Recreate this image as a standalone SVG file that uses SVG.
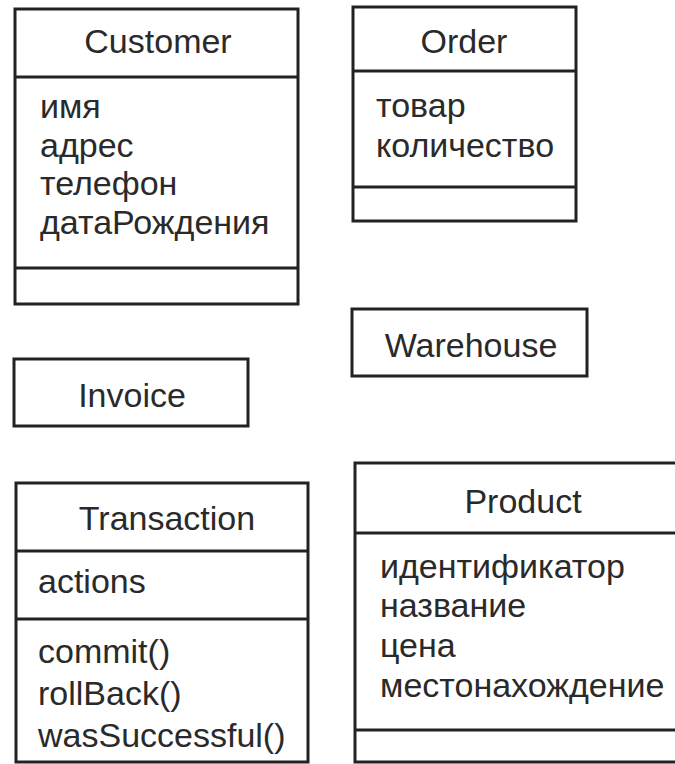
<svg xmlns="http://www.w3.org/2000/svg" width="675" height="764" viewBox="0 0 675 764">
  <style>
    .box { fill: #ffffff; stroke: #222222; stroke-width: 3; }
    .sep { stroke: #222222; stroke-width: 3; }
    text { font-family: "Liberation Sans", Arial, sans-serif; font-size: 34px; fill: #2a2a2a; }
    .name { text-anchor: middle; }
  </style>
  <rect width="675" height="764" fill="#ffffff"/>

  <g id="customer">
    <rect class="box" x="15" y="9" width="283" height="295"/>
    <line class="sep" x1="15" y1="77" x2="298" y2="77"/>
    <line class="sep" x1="15" y1="268" x2="298" y2="268"/>
    <text class="name" x="158" y="53">Customer</text>
    <text x="40" y="118">имя</text>
    <text x="40" y="157">адрес</text>
    <text x="40" y="195">телефон</text>
    <text x="40" y="234">датаРождения</text>
  </g>

  <g id="order">
    <rect class="box" x="353" y="7" width="223" height="214"/>
    <line class="sep" x1="353" y1="71" x2="576" y2="71"/>
    <line class="sep" x1="353" y1="187" x2="576" y2="187"/>
    <text class="name" x="464" y="53">Order</text>
    <text x="376" y="117">товар</text>
    <text x="376" y="157">количество</text>
  </g>

  <g id="warehouse">
    <rect class="box" x="352" y="309" width="235" height="67"/>
    <text class="name" x="471" y="357">Warehouse</text>
  </g>

  <g id="invoice">
    <rect class="box" x="14" y="359" width="234" height="67"/>
    <text class="name" x="132" y="407">Invoice</text>
  </g>

  <g id="transaction">
    <rect class="box" x="16" y="483" width="292" height="279"/>
    <line class="sep" x1="16" y1="551" x2="308" y2="551"/>
    <line class="sep" x1="16" y1="619" x2="308" y2="619"/>
    <text class="name" x="167" y="530">Transaction</text>
    <text x="38" y="593">actions</text>
    <text x="38" y="663">commit()</text>
    <text x="38" y="705">rollBack()</text>
    <text x="38" y="747">wasSuccessful()</text>
  </g>

  <g id="product">
    <rect class="box" x="355" y="463" width="340" height="299"/>
    <line class="sep" x1="355" y1="533" x2="675" y2="533"/>
    <line class="sep" x1="355" y1="730" x2="675" y2="730"/>
    <text class="name" x="523" y="513">Product</text>
    <text x="380" y="578">идентификатор</text>
    <text x="380" y="617">название</text>
    <text x="380" y="657">цена</text>
    <text x="380" y="697">местонахождение</text>
  </g>

  <g id="connectors"/>
</svg>
